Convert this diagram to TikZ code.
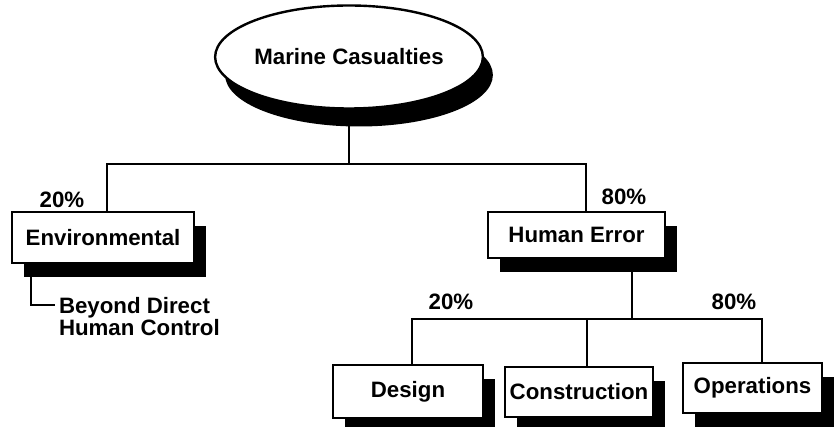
\documentclass[tikz,border=0pt]{standalone}
\usepackage{fontspec}
\setmainfont{Liberation Sans}
\usetikzlibrary{positioning, shapes.geometric, shadows}

\begin{document}
\begin{tikzpicture}[
        x=0.75pt, y=-0.75pt,
        line width=1.5pt,
        txt/.style={font=\fontsize{16.7}{16.5}\selectfont\bfseries},
        cbox/.style={
            txt, draw=black, fill=white, inner sep=0pt,
            line width=1.8pt, minimum height=37.5pt,
            drop shadow={shadow xshift=9pt, shadow yshift=-10.5pt,
                         fill=black, opacity=1}
        },
        pct/.style={txt, anchor=base, inner sep=0pt}
    ]
    \useasboundingbox (0,0) rectangle (838,427);

    % root
    \node[txt, ellipse, draw=black, fill=white, inner sep=0pt,
          line width=1.8pt,
          minimum width=163.5pt, minimum height=77.25pt,
          drop shadow={shadow xshift=7.5pt, shadow yshift=-13.5pt,
                       fill=black, opacity=1}] (mc) at (349, 57)
        {Marine Casualties};

    % first level
    \node[cbox, minimum width=136.5pt, minimum height=38.25pt] (env)
        at (103, 237.5) {Environmental};
    \node[cbox, minimum width=132.75pt, minimum height=34.5pt] (he)
        at (576.5, 235) {Human Error};
    \node[pct] (penv) at (62, 208) {20\%};
    \node[pct] (phe) at (624, 205) {80\%};

    \node[txt, align=left, anchor=north west, inner sep=0pt] (bdc)
        at (58, 296) {Beyond Direct\\Human Control};

    % second level
    \node[cbox, minimum width=112.5pt, minimum height=39.75pt] (des)
        at (408, 391.5) {Design};
    \node[cbox, minimum width=111pt] (con)
        at (579, 392) {Construction};
    \node[cbox, minimum width=104.25pt] (ops)
        at (752.5, 388) {Operations};
    \node[pct] (pdes) at (451, 310) {20\%};
    \node[pct] (pops) at (734, 310) {80\%};

    % connectors
    \coordinate (j1) at (349, 164);
    \coordinate (j2) at (587, 319);
    \draw (mc.south) -- (j1);
    \draw ([xshift=3pt]env.north) |- (j1) -| ([xshift=7pt]he.north);
    \draw ([xshift=15pt]env.south west) |- ([xshift=-2pt, yshift=-7pt]bdc.north west);
    \draw ([xshift=41.5pt]he.south) -- ([xshift=41.5pt]he.south |- j2);
    \draw ([xshift=3pt]des.north) |- (j2) -| ([xshift=7pt]ops.north);
    \draw (j2) -- ([xshift=6pt]con.north);
\end{tikzpicture}
\end{document}
